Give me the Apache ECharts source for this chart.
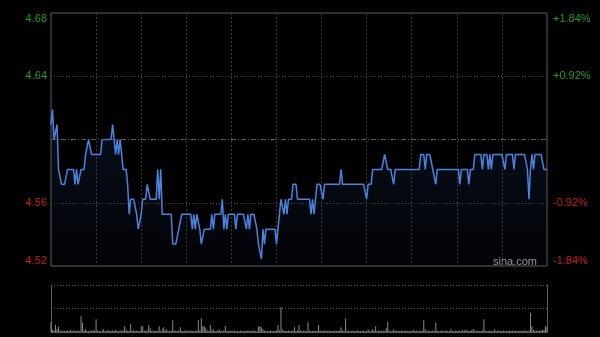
<!DOCTYPE html>
<html><head><meta charset="utf-8">
<script src="https://cdn.jsdelivr.net/npm/echarts/dist/echarts.min.js"></script>
<style>html,body{margin:0;padding:0;background:#000;}#c{width:600px;height:337px;}</style>
</head><body><div id="c"></div><script>
// ---- data ----
const prevClose = 4.60;
const pctTicks = [-1.84, -0.92, 0, 0.92, 1.84];
const priceTickLabels = ['4.52', '4.56', '', '4.64', '4.68'];
const pctTickLabels = ['-1.84%', '-0.92%', '', '+0.92%', '+1.84%'];
const prices = [
4.61,4.62,4.60,4.60,4.61,4.58,4.58,4.57,4.57,4.57,
4.57,4.58,4.58,4.58,4.58,4.58,4.57,4.58,4.57,4.57,
4.58,4.58,4.58,4.59,4.59,4.60,4.60,4.59,4.59,4.59,
4.59,4.59,4.59,4.59,4.60,4.60,4.60,4.60,4.60,4.60,
4.60,4.61,4.60,4.59,4.60,4.59,4.60,4.59,4.58,4.58,
4.58,4.57,4.55,4.56,4.56,4.56,4.56,4.55,4.54,4.54,
4.55,4.56,4.56,4.56,4.57,4.57,4.56,4.56,4.56,4.56,
4.56,4.58,4.56,4.58,4.55,4.55,4.55,4.55,4.55,4.55,
4.55,4.53,4.53,4.53,4.53,4.54,4.54,4.55,4.55,4.55,
4.55,4.55,4.55,4.55,4.54,4.55,4.54,4.55,4.55,4.54,
4.53,4.53,4.54,4.54,4.54,4.54,4.54,4.55,4.54,4.55,
4.55,4.55,4.55,4.55,4.56,4.54,4.55,4.54,4.55,4.55,
4.55,4.55,4.55,4.54,4.55,4.55,4.55,4.55,4.55,4.55,
4.54,4.55,4.54,4.55,4.55,4.55,4.55,4.54,4.53,4.53,
4.52,4.54,4.53,4.54,4.54,4.54,4.54,4.54,4.54,4.54,
4.53,4.54,4.55,4.56,4.56,4.55,4.56,4.55,4.56,4.56,
4.56,4.57,4.57,4.57,4.56,4.56,4.56,4.56,4.56,4.56,
4.56,4.56,4.56,4.55,4.56,4.55,4.56,4.57,4.57,4.57,
4.57,4.56,4.57,4.57,4.57,4.57,4.57,4.57,4.57,4.57,
4.57,4.57,4.57,4.58,4.57,4.57,4.57,4.57,4.57,4.57,
4.57,4.57,4.57,4.57,4.57,4.57,4.57,4.57,4.57,4.57,
4.56,4.57,4.57,4.57,4.58,4.58,4.58,4.58,4.58,4.58,
4.58,4.58,4.59,4.59,4.58,4.58,4.58,4.58,4.57,4.58,
4.58,4.58,4.58,4.58,4.58,4.58,4.58,4.58,4.58,4.58,
4.58,4.58,4.58,4.58,4.58,4.58,4.59,4.59,4.59,4.58,
4.59,4.59,4.59,4.59,4.58,4.58,4.57,4.58,4.58,4.58,
4.58,4.58,4.58,4.58,4.58,4.58,4.58,4.58,4.58,4.58,
4.58,4.58,4.57,4.58,4.58,4.58,4.58,4.58,4.57,4.58,
4.58,4.58,4.59,4.59,4.59,4.59,4.59,4.58,4.59,4.59,
4.59,4.58,4.59,4.58,4.59,4.59,4.59,4.59,4.59,4.59,
4.59,4.59,4.58,4.59,4.59,4.59,4.59,4.59,4.58,4.59,
4.59,4.59,4.59,4.59,4.59,4.59,4.59,4.58,4.56,4.58,
4.59,4.58,4.59,4.59,4.59,4.59,4.59,4.59,4.58,4.58,4.58
];
const volumes = [
22,4,3,15,6,11,3,2,3,2,
2,3,2,5,2,3,2,2,3,2,
34,20,3,6,2,2,3,2,4,2,
27,3,2,2,3,6,2,2,4,2,
2,3,2,5,2,2,3,2,3,12,
5,2,3,17,2,4,2,3,2,2,
12,12,3,2,3,15,8,2,3,2,
2,3,12,2,6,10,3,6,2,2,
3,25,3,2,2,3,10,2,2,3,
3,2,2,3,2,2,3,2,25,3,
29,12,12,8,3,2,15,3,6,2,
2,3,6,2,2,3,13,2,2,3,
2,2,3,2,2,2,3,2,2,2,
2,3,2,2,2,3,2,2,12,12,
10,6,3,2,2,2,3,2,2,2,
3,15,3,53,5,3,2,2,3,2,
2,3,10,2,3,15,3,2,2,3,
2,21,3,2,2,3,2,2,15,3,
2,2,3,2,2,3,2,2,2,3,
2,2,3,10,3,2,29,3,2,2,
2,3,2,2,3,2,2,2,3,2,
2,6,2,3,6,3,12,2,3,2,
2,3,2,8,22,3,2,2,6,2,
3,2,2,3,2,2,3,2,2,2,
2,4,2,3,2,2,3,2,25,6,
2,3,2,2,3,2,20,3,2,2,
3,2,2,3,2,2,6,2,2,3,
2,2,3,2,4,3,5,3,2,2,
5,6,3,2,3,2,2,3,27,3,
2,2,3,2,2,6,2,2,3,2,
2,3,2,2,2,3,2,2,3,2,
2,2,3,2,2,3,2,2,3,41,
12,4,3,3,2,3,3,4,5,12,10
];
// minute categories 09:30-12:00, 13:01-16:00
const times = [];
function pad(n){return (n<10?'0':'')+n;}
for (let m = 9*60+30; m <= 12*60; m++) times.push(pad(Math.floor(m/60))+':'+pad(m%60));
for (let m = 13*60+1; m <= 16*60; m++) times.push(pad(Math.floor(m/60))+':'+pad(m%60));

// ---- chart ----
const pct = prices.map(p => (p / prevClose - 1) * 100);
function tickIdx(v){ return Math.round((v - pctTicks[0]) / 0.92); }
const GREEN = '#1e9e1e', RED = '#cc1a1a';
const FONT = 'Liberation Sans, Arial, sans-serif';
const chart = echarts.init(document.getElementById('c'));
chart.setOption({
  backgroundColor: '#000',
  animation: false,
  grid: [
    {left: 51, top: 13, width: 496, height: 253, show: true, borderColor: '#5e5e5e', borderWidth: 1, backgroundColor: 'transparent'},
    {left: 51, top: 285, width: 496, height: 47}
  ],
  xAxis: [
    {type: 'category', gridIndex: 0, data: times, boundaryGap: false,
     axisLine: {show: false}, axisTick: {show: false}, axisLabel: {show: false},
     splitLine: {show: true, interval: (i) => i > 0 && i < times.length - 1 && i % 30 === 0,
       lineStyle: {color: '#3a3a3a', type: [2, 2], width: 1}}},
    {type: 'category', gridIndex: 1, data: times, boundaryGap: false,
     axisLine: {show: true, lineStyle: {color: '#5e5e5e'}}, axisTick: {show: false}, axisLabel: {show: false},
     splitLine: {show: false}}
  ],
  yAxis: [
    {type: 'value', gridIndex: 0, position: 'left', min: pctTicks[0], max: pctTicks[4], interval: 0.92,
     axisLine: {show: false}, axisTick: {show: false},
     splitLine: {show: true, lineStyle: {color: ['transparent', '#4a4a4a', 'transparent', '#4a4a4a', 'transparent'], type: [1, 2]}},
     axisLabel: {margin: 4, fontSize: 11, fontFamily: FONT,
       verticalAlignMaxLabel: 'top', verticalAlignMinLabel: 'bottom',
       formatter: v => priceTickLabels[tickIdx(v)],
       color: v => (v > 0 ? GREEN : RED)}},
    {type: 'value', gridIndex: 0, position: 'right', min: pctTicks[0], max: pctTicks[4], interval: 0.92,
     axisLine: {show: false}, axisTick: {show: false}, splitLine: {show: false},
     axisLabel: {margin: 6, fontSize: 11, fontFamily: FONT,
       verticalAlignMaxLabel: 'top', verticalAlignMinLabel: 'bottom',
       formatter: v => pctTickLabels[tickIdx(v)],
       color: v => (v > 0 ? GREEN : RED)}},
    {type: 'value', gridIndex: 1, position: 'left', min: 0, max: 100, interval: 50,
     axisLine: {show: true, lineStyle: {color: '#5e5e5e'}}, axisTick: {show: false}, axisLabel: {show: false},
     splitLine: {show: true, lineStyle: {color: ['transparent', '#555', '#555'], type: [1, 2]}}},
    {type: 'value', gridIndex: 1, position: 'right', min: 0, max: 100, interval: 50,
     axisLine: {show: true, lineStyle: {color: '#5e5e5e'}}, axisTick: {show: false}, axisLabel: {show: false},
     splitLine: {show: false}}
  ],
  series: [
    {type: 'line', xAxisIndex: 0, yAxisIndex: 0, data: pct, showSymbol: false, symbol: 'none',
     lineStyle: {color: '#4a84de', width: 1.5},
     areaStyle: {origin: 'start', color: {type: 'linear', x: 0, y: 0, x2: 0, y2: 1,
       colorStops: [{offset: 0, color: 'rgba(40,75,140,0.30)'}, {offset: 1, color: 'rgba(40,75,140,0.06)'}]}},
     markLine: {silent: true, symbol: 'none', label: {show: false},
       lineStyle: {color: '#5a5a5a', type: [5, 2, 1, 2], width: 1},
       data: [{yAxis: 0}]}},
    {type: 'bar', xAxisIndex: 1, yAxisIndex: 2, data: volumes, barWidth: 1,
     itemStyle: {color: '#8a8a8a'}}
  ],
  graphic: [
    {type: 'text', right: 63, top: 256, style: {text: 'sina.com', fill: '#9a9a9a', font: '11px ' + FONT}}
  ]
});
</script></body></html>
